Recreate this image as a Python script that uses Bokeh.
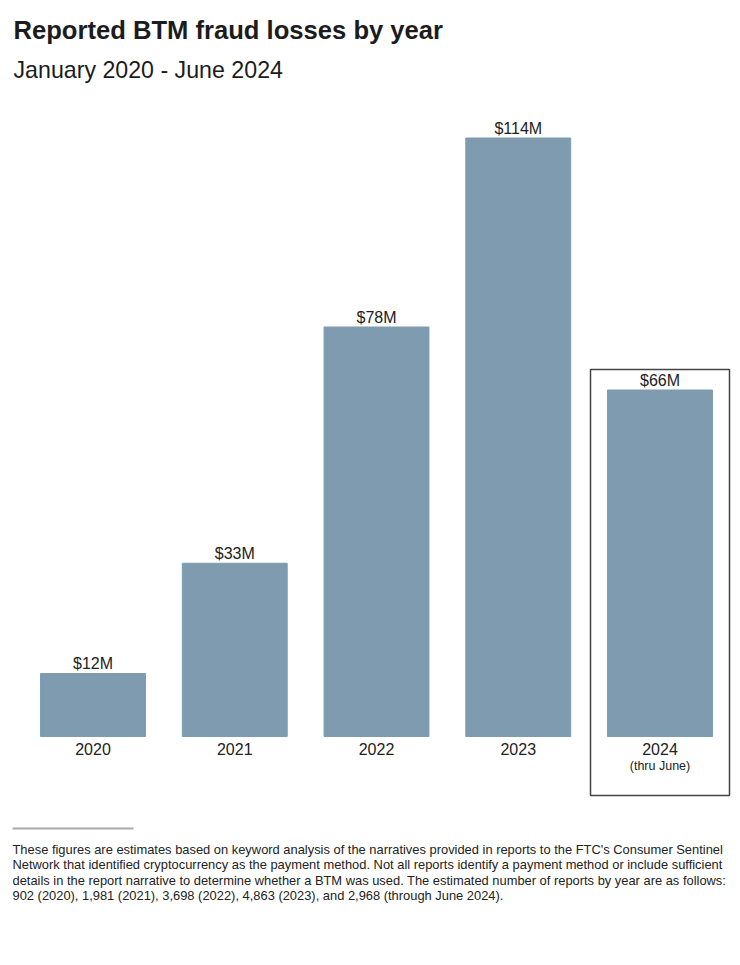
from bokeh.plotting import figure
from bokeh.models import Range1d, ColumnDataSource
from bokeh.core.properties import value
from bokeh.embed import file_html
from bokeh.resources import INLINE

# ---------------- data ----------------
years = ["2020", "2021", "2022", "2023", "2024"]
losses_musd = [12, 33, 78, 114, 66]
value_labels = ["$12M", "$33M", "$78M", "$114M", "$66M"]
year_notes = ["", "", "", "", "(thru June)"]

title = "Reported BTM fraud losses by year"
subtitle = "January 2020 - June 2024"
footnote_lines = [
    "These figures are estimates based on keyword analysis of the narratives provided in reports to the FTC's Consumer Sentinel",
    "Network that identified cryptocurrency as the payment method. Not all reports identify a payment method or include sufficient",
    "details in the report narrative to determine whether a BTM was used. The estimated number of reports by year are as follows:",
    "902 (2020), 1,981 (2021), 3,698 (2022), 4,863 (2023), and 2,968 (through June 2024).",
]

# ---------------- layout ----------------
W, H = 740, 965
FIRST_CENTER = 92.5
PX_PER_CAT = 141.75
BASE_PAGE_Y = 736
PX_PER_M = 5.25
FIX = 6  # baseline correction for svg text

def dx(page_x):
    return (page_x - FIRST_CENTER) / PX_PER_CAT

def dy(page_y):
    return (BASE_PAGE_Y - page_y) / PX_PER_M

FONT = value("Liberation Sans")
BAR = "#7e9bb0"
TXT = "#222222"

p = figure(frame_width=W, frame_height=H,
           min_border_left=0, min_border_right=0,
           min_border_top=0, min_border_bottom=0,
           x_range=Range1d(dx(0), dx(W)),
           y_range=Range1d(dy(H), dy(0)),
           output_backend="svg", toolbar_location=None,
           x_axis_location=None, y_axis_location=None)
p.outline_line_color = None
p.grid.visible = False
p.background_fill_color = "white"
p.border_fill_color = "white"

idx = list(range(len(years)))
src = ColumnDataSource(dict(x=idx, top=losses_musd, year=years,
                            lab=value_labels, note=year_notes))

p.vbar(x="x", top="top", bottom=0, width=0.74, source=src,
       fill_color=BAR, line_color=BAR)

p.text(x="x", y="top", text="lab", source=src, text_font=FONT,
       text_font_size="16px", text_color=TXT, text_align="center",
       text_baseline="alphabetic", y_offset=-4 - FIX)
p.text(x="x", y=0, text="year", source=src, text_font=FONT,
       text_font_size="16px", text_color=TXT, text_align="center",
       text_baseline="alphabetic", y_offset=18 - FIX)
p.text(x="x", y=0, text="note", source=src, text_font=FONT,
       text_font_size="12.5px", text_color=TXT, text_align="center",
       text_baseline="alphabetic", y_offset=35 - FIX)

# highlight box around partial-year bar
p.quad(left=[dx(590)], right=[dx(729)], top=[dy(369)], bottom=[dy(795)],
       fill_color=None, line_color="#444444", line_width=1.5)

# titles
p.text(x=[dx(13)], y=[dy(35 - FIX)], text=[title], text_font=FONT,
       text_font_style="bold", text_font_size="25.6px", text_color="#1c1c1c",
       text_align="left", text_baseline="alphabetic")
p.text(x=[dx(13)], y=[dy(75 - FIX)], text=[subtitle], text_font=FONT,
       text_font_size="23.2px", text_color="#1c1c1c",
       text_align="left", text_baseline="alphabetic")

# footnote rule and text
p.segment(x0=[dx(12)], x1=[dx(133)], y0=[dy(828)], y1=[dy(828)],
          line_color="#aaaaaa", line_width=2)
fy = [dy(855 + 15.4 * i - FIX) for i in range(len(footnote_lines))]
p.text(x=[dx(12)] * len(footnote_lines), y=fy, text=footnote_lines,
       text_font=FONT, text_font_size="12.9px", text_color=TXT,
       text_align="left", text_baseline="alphabetic")

open("out.html", "w").write(file_html(p, INLINE))
